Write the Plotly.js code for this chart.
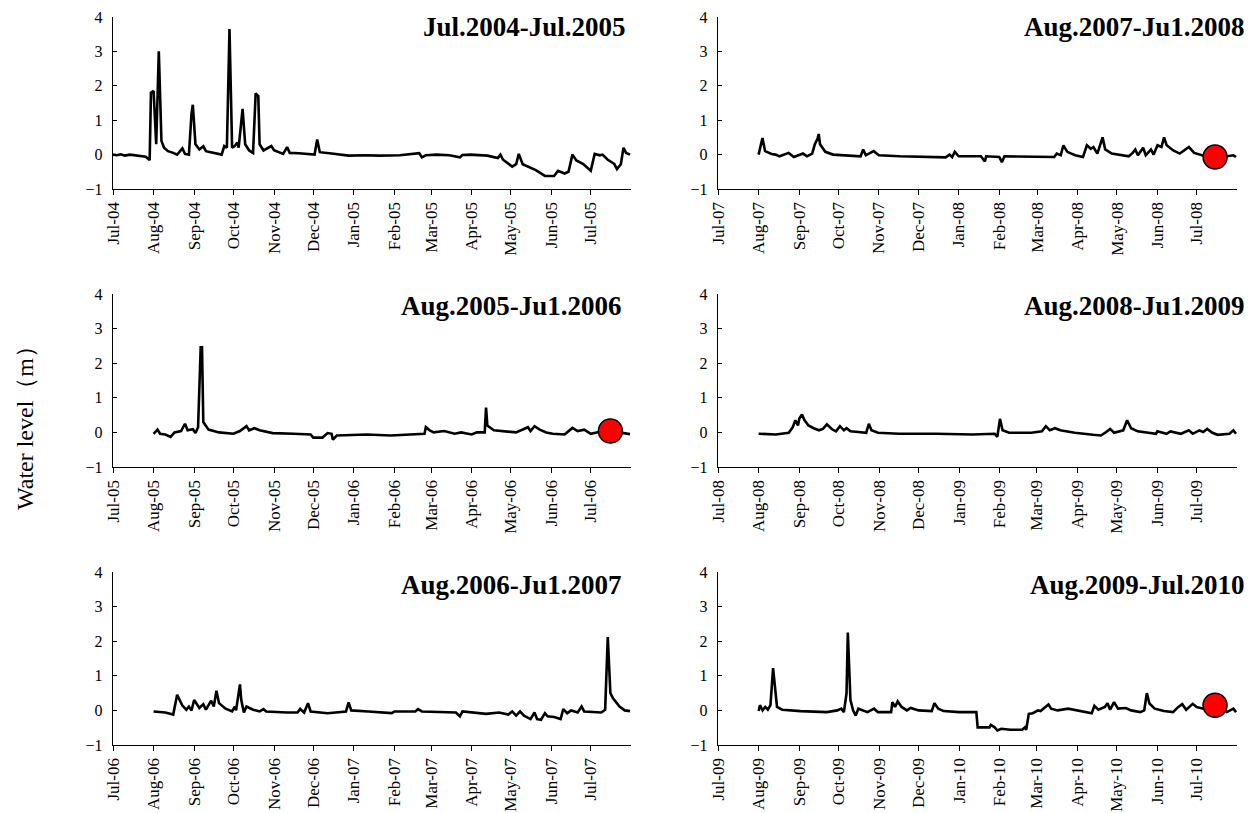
<!DOCTYPE html>
<html>
<head>
<meta charset="utf-8">
<script src="https://cdn.plot.ly/plotly-3.0.1.min.js"></script>
<style>html,body{margin:0;padding:0;background:#fff;}#chart{width:1253px;height:813px;}</style>
</head>
<body>
<div id="chart"></div>
<script>
// ---- Panel titles ----
const panelTitles = ["Jul.2004-Jul.2005", "Aug.2007-Ju1.2008", "Aug.2005-Ju1.2006", "Aug.2008-Ju1.2009", "Aug.2006-Ju1.2007", "Aug.2009-Jul.2010"];
const yAxisTitle = "Water level（m）";

// ---- Panel 1: Jul 2004 - Jul 2005 ----
const p1Dates = ["2004-07-01","2004-07-04","2004-07-07","2004-07-10","2004-07-14","2004-07-18","2004-07-22","2004-07-26","2004-07-29","2004-07-30","2004-08-01","2004-08-03","2004-08-05","2004-08-07","2004-08-09","2004-08-12","2004-08-16","2004-08-19","2004-08-23","2004-08-25","2004-08-28","2004-08-30","2004-08-31","2004-09-02","2004-09-05","2004-09-08","2004-09-10","2004-09-15","2004-09-22","2004-09-24","2004-09-26","2004-09-28","2004-09-30","2004-10-02","2004-10-04","2004-10-05","2004-10-08","2004-10-10","2004-10-13","2004-10-16","2004-10-18","2004-10-20","2004-10-21","2004-10-24","2004-10-30","2004-11-01","2004-11-05","2004-11-08","2004-11-11","2004-11-13","2004-11-20","2004-12-02","2004-12-04","2004-12-06","2004-12-15","2004-12-28","2005-01-10","2005-01-20","2005-02-05","2005-02-20","2005-02-22","2005-02-25","2005-03-05","2005-03-15","2005-03-23","2005-03-25","2005-03-31","2005-04-13","2005-04-21","2005-04-23","2005-04-25","2005-05-02","2005-05-05","2005-05-07","2005-05-10","2005-05-20","2005-05-27","2005-06-03","2005-06-06","2005-06-11","2005-06-14","2005-06-17","2005-06-20","2005-06-25","2005-07-01","2005-07-04","2005-07-08","2005-07-10","2005-07-14","2005-07-19","2005-07-21","2005-07-24","2005-07-26","2005-07-28","2005-07-31"];
const p1Values = [0.0,-0.02,0.01,-0.03,0.0,-0.02,-0.05,-0.06,-0.16,1.8,1.85,0.3,3.0,0.4,0.2,0.1,0.05,0.0,0.18,0.02,0.0,1.2,1.45,0.3,0.15,0.24,0.1,0.05,0.0,0.25,0.2,3.65,0.2,0.25,0.35,0.2,1.33,0.3,0.12,0.05,1.78,1.7,0.3,0.12,0.25,0.13,0.06,0.02,0.22,0.05,0.04,0.0,0.44,0.07,0.03,-0.03,-0.02,-0.03,-0.02,0.04,-0.08,-0.02,0.0,-0.02,-0.08,-0.01,0.0,-0.03,-0.1,0.0,-0.15,-0.35,-0.28,0.02,-0.28,-0.45,-0.62,-0.62,-0.47,-0.55,-0.5,0.0,-0.17,-0.27,-0.47,0.02,-0.02,0.0,-0.15,-0.27,-0.42,-0.28,0.2,0.05,0.0];

// ---- Panel 2: Aug 2007 - Jul 2008 ----
const p2Dates = ["2007-08-01","2007-08-04","2007-08-06","2007-08-11","2007-08-14","2007-08-17","2007-08-24","2007-08-28","2007-09-04","2007-09-07","2007-09-11","2007-09-13","2007-09-15","2007-09-16","2007-09-17","2007-09-21","2007-09-27","2007-10-08","2007-10-18","2007-10-20","2007-10-22","2007-10-28","2007-11-01","2007-11-17","2007-12-09","2007-12-22","2007-12-25","2007-12-27","2007-12-29","2008-01-01","2008-01-18","2008-01-21","2008-01-22","2008-02-01","2008-02-03","2008-02-05","2008-03-14","2008-03-16","2008-03-19","2008-03-21","2008-03-24","2008-03-30","2008-04-05","2008-04-08","2008-04-11","2008-04-13","2008-04-16","2008-04-20","2008-04-22","2008-04-27","2008-05-10","2008-05-13","2008-05-15","2008-05-17","2008-05-21","2008-05-23","2008-05-27","2008-05-29","2008-06-01","2008-06-04","2008-06-06","2008-06-08","2008-06-13","2008-06-18","2008-06-25","2008-06-29","2008-07-05","2008-07-15","2008-07-24","2008-07-29","2008-07-31"];
const p2Values = [0.0,0.48,0.1,0.02,0.0,-0.05,0.05,-0.07,0.03,-0.05,0.03,0.3,0.45,0.6,0.3,0.08,0.0,-0.02,-0.05,0.15,-0.02,0.1,-0.02,-0.05,-0.08,-0.08,0.0,-0.07,0.08,-0.05,-0.05,-0.2,-0.05,-0.07,-0.22,-0.05,-0.07,0.03,-0.02,0.27,0.08,-0.02,-0.07,0.27,0.17,0.22,0.03,0.5,0.15,0.03,-0.05,0.05,0.15,-0.02,0.2,-0.02,0.15,0.0,0.27,0.22,0.5,0.27,0.12,0.03,0.22,0.05,-0.02,-0.07,-0.05,-0.02,-0.07];
const p2MarkerDate = ["2008-07-15"];
const p2MarkerValue = [-0.07];

// ---- Panel 3: Aug 2005 - Jul 2006 ----
const p3Dates = ["2005-08-01","2005-08-04","2005-08-06","2005-08-10","2005-08-14","2005-08-17","2005-08-22","2005-08-25","2005-08-27","2005-08-31","2005-09-02","2005-09-04","2005-09-06","2005-09-07","2005-09-08","2005-09-12","2005-09-20","2005-10-01","2005-10-06","2005-10-11","2005-10-13","2005-10-17","2005-10-21","2005-10-31","2005-11-16","2005-11-29","2005-12-01","2005-12-08","2005-12-12","2005-12-15","2005-12-16","2005-12-19","2006-01-11","2006-01-29","2006-02-24","2006-02-25","2006-02-28","2006-03-03","2006-03-11","2006-03-19","2006-03-24","2006-04-01","2006-04-05","2006-04-11","2006-04-12","2006-04-13","2006-04-18","2006-05-05","2006-05-14","2006-05-16","2006-05-19","2006-05-23","2006-05-28","2006-06-02","2006-06-11","2006-06-17","2006-06-21","2006-06-26","2006-07-01","2006-07-08","2006-07-16","2006-07-24","2006-07-31"];
const p3Values = [-0.04,0.08,-0.04,-0.06,-0.13,0.0,0.04,0.25,0.06,0.09,-0.02,0.15,2.46,2.46,0.3,0.08,0.0,-0.04,0.04,0.18,0.06,0.12,0.06,-0.02,-0.04,-0.06,-0.15,-0.15,-0.02,-0.04,-0.21,-0.09,-0.06,-0.09,-0.04,0.15,0.06,0.0,0.04,-0.04,0.0,-0.06,0.0,0.0,0.72,0.2,0.06,0.0,0.15,0.04,0.18,0.08,0.0,-0.04,-0.06,0.13,0.04,0.08,-0.04,0.02,0.04,0.0,-0.05];
const p3MarkerDate = ["2006-07-16"];
const p3MarkerValue = [0.04];

// ---- Panel 4: Aug 2008 - Jul 2009 ----
const p4Dates = ["2008-08-01","2008-08-07","2008-08-14","2008-08-24","2008-08-27","2008-08-29","2008-08-31","2008-09-01","2008-09-03","2008-09-05","2008-09-08","2008-09-12","2008-09-16","2008-09-19","2008-09-22","2008-09-26","2008-09-29","2008-10-02","2008-10-05","2008-10-07","2008-10-10","2008-10-16","2008-10-22","2008-10-24","2008-10-26","2008-10-31","2008-11-16","2008-12-14","2009-01-11","2009-01-28","2009-01-30","2009-02-01","2009-02-03","2009-02-08","2009-02-25","2009-03-05","2009-03-08","2009-03-11","2009-03-15","2009-03-19","2009-03-30","2009-04-13","2009-04-19","2009-04-23","2009-04-26","2009-04-29","2009-05-06","2009-05-09","2009-05-12","2009-05-17","2009-05-31","2009-06-01","2009-06-08","2009-06-11","2009-06-19","2009-06-25","2009-06-28","2009-07-03","2009-07-06","2009-07-09","2009-07-13","2009-07-17","2009-07-26","2009-07-29","2009-07-31"];
const p4Values = [-0.04,-0.04,-0.06,-0.01,0.15,0.35,0.2,0.4,0.52,0.35,0.2,0.12,0.06,0.1,0.23,0.09,0.03,0.18,0.06,0.12,0.03,0.01,-0.01,0.25,0.06,-0.01,-0.04,-0.04,-0.06,-0.04,-0.13,0.39,0.06,-0.01,-0.01,0.03,0.18,0.06,0.12,0.06,-0.01,-0.07,-0.09,0.01,0.1,-0.01,0.06,0.35,0.12,0.03,-0.04,0.03,-0.04,0.03,-0.04,0.06,-0.04,0.06,0.01,0.1,-0.01,-0.07,-0.04,0.06,-0.04];

// ---- Panel 5: Aug 2006 - Jul 2007 ----
const p5Dates = ["2006-08-01","2006-08-10","2006-08-16","2006-08-19","2006-08-23","2006-08-26","2006-08-28","2006-08-30","2006-09-01","2006-09-05","2006-09-08","2006-09-10","2006-09-14","2006-09-16","2006-09-18","2006-09-20","2006-09-25","2006-09-30","2006-10-02","2006-10-03","2006-10-06","2006-10-07","2006-10-09","2006-10-11","2006-10-16","2006-10-21","2006-10-24","2006-10-26","2006-11-11","2006-11-19","2006-11-21","2006-11-24","2006-11-27","2006-11-29","2006-12-12","2006-12-26","2006-12-28","2006-12-30","2007-01-12","2007-01-30","2007-02-01","2007-02-17","2007-02-19","2007-02-22","2007-03-20","2007-03-23","2007-03-25","2007-04-12","2007-04-22","2007-04-29","2007-05-02","2007-05-05","2007-05-08","2007-05-11","2007-05-16","2007-05-19","2007-05-21","2007-05-24","2007-05-27","2007-05-29","2007-06-03","2007-06-08","2007-06-10","2007-06-13","2007-06-16","2007-06-21","2007-06-24","2007-06-26","2007-07-09","2007-07-12","2007-07-14","2007-07-16","2007-07-18","2007-07-21","2007-07-23","2007-07-27","2007-07-31"];
const p5Values = [-0.03,-0.06,-0.12,0.45,0.14,0.02,0.11,0.0,0.3,0.07,0.18,0.02,0.28,0.11,0.57,0.21,0.05,-0.03,0.11,0.0,0.75,0.3,-0.06,0.11,0.02,-0.03,0.04,-0.03,-0.06,-0.06,0.04,-0.06,0.21,-0.03,-0.08,-0.03,0.23,0.0,-0.03,-0.08,-0.03,-0.03,0.04,-0.03,-0.06,-0.17,-0.03,-0.1,-0.06,-0.12,-0.03,-0.15,-0.03,-0.15,-0.25,-0.06,-0.25,-0.27,-0.08,-0.17,-0.19,-0.25,0.04,-0.08,0.0,-0.06,0.11,-0.03,-0.06,0.02,2.12,0.5,0.35,0.21,0.11,0.0,-0.02];

// ---- Panel 6: Aug 2009 - Jul 2010 ----
const p6Dates = ["2009-08-01","2009-08-02","2009-08-04","2009-08-06","2009-08-08","2009-08-10","2009-08-12","2009-08-14","2009-08-15","2009-08-19","2009-09-02","2009-09-22","2009-09-30","2009-10-03","2009-10-05","2009-10-07","2009-10-08","2009-10-10","2009-10-12","2009-10-14","2009-10-16","2009-10-23","2009-10-28","2009-10-31","2009-11-10","2009-11-11","2009-11-13","2009-11-15","2009-11-18","2009-11-22","2009-11-25","2009-12-01","2009-12-11","2009-12-13","2009-12-16","2009-12-20","2010-01-01","2010-01-14","2010-01-15","2010-01-24","2010-01-25","2010-01-28","2010-01-30","2010-02-02","2010-02-09","2010-02-18","2010-02-20","2010-02-21","2010-02-23","2010-02-26","2010-03-02","2010-03-04","2010-03-10","2010-03-12","2010-03-17","2010-03-25","2010-04-03","2010-04-12","2010-04-14","2010-04-17","2010-04-22","2010-04-24","2010-04-26","2010-04-29","2010-05-02","2010-05-08","2010-05-12","2010-05-19","2010-05-22","2010-05-24","2010-05-26","2010-05-30","2010-06-06","2010-06-13","2010-06-17","2010-06-20","2010-06-23","2010-06-25","2010-06-28","2010-07-01","2010-07-06","2010-07-15","2010-07-24","2010-07-29","2010-07-31"];
const p6Values = [-0.02,0.15,0.0,0.1,0.02,0.15,1.22,0.3,0.1,0.02,-0.02,-0.05,0.0,0.05,-0.05,0.49,2.25,0.3,0.0,-0.15,0.05,-0.05,0.05,-0.05,-0.05,0.24,0.1,0.26,0.1,0.0,0.07,0.0,-0.02,0.21,0.05,-0.02,-0.05,-0.05,-0.49,-0.49,-0.42,-0.49,-0.58,-0.53,-0.56,-0.56,-0.49,-0.56,-0.1,-0.08,0.0,-0.02,0.17,0.05,0.0,0.05,-0.02,-0.08,0.13,0.02,0.1,0.21,0.02,0.24,0.05,0.07,0.0,-0.05,0.0,0.5,0.2,0.05,-0.02,-0.05,0.1,0.18,0.02,0.1,0.19,0.1,0.05,0.15,-0.05,0.05,-0.05];
const p6MarkerDate = ["2010-07-15"];
const p6MarkerValue = [0.15];

// ---- X ranges (start of July to end of next July) ----
const xRanges = [["2004-07-01","2005-07-31 18:00"],["2007-07-01","2008-07-31 18:00"],["2005-07-01","2006-07-31 18:00"],["2008-07-01","2009-07-31 18:00"],["2006-07-01","2007-07-31 18:00"],["2009-07-01","2010-07-31 18:00"]];

const lineSeries = [[p1Dates,p1Values],[p2Dates,p2Values],[p3Dates,p3Values],[p4Dates,p4Values],[p5Dates,p5Values],[p6Dates,p6Values]];
const markerSeries = [null,[p2MarkerDate,p2MarkerValue],[p3MarkerDate,p3MarkerValue],null,null,[p6MarkerDate,p6MarkerValue]];

const W = 1253, H = 813;
const colX = [[113,631],[718,1237]];
const rowY = [[17,189],[294,467],[572,745]];
const titleRight = [628,1247,624,1247,624,1247];
const titleY = [27,306,585];
const FONT = "Liberation Serif";

const traces = [];
const layout = {
  width: W, height: H, margin:{l:0,r:0,t:0,b:0},
  paper_bgcolor:'#fff', plot_bgcolor:'#fff', showlegend:false,
  font:{family:FONT, color:'#000', size:16},
  annotations: []
};

for (let i=0;i<6;i++){
  const col = i%2, row = Math.floor(i/2);
  const ax = i===0 ? '' : String(i+1);
  const xa = 'x'+ax, ya = 'y'+ax;
  traces.push({x:lineSeries[i][0], y:lineSeries[i][1], xaxis:xa, yaxis:ya, type:'scatter', mode:'lines',
    line:{color:'#000', width:2.6}, hoverinfo:'skip'});
  if (markerSeries[i]) {
    traces.push({x:markerSeries[i][0], y:markerSeries[i][1], xaxis:xa, yaxis:ya, type:'scatter', mode:'markers',
      marker:{color:'#ff0000', size:24, line:{color:'#000', width:1.5}}, hoverinfo:'skip', cliponaxis:false});
  }
  layout['xaxis'+ax] = {
    domain:[colX[col][0]/W, colX[col][1]/W], anchor:ya, type:'date', range:xRanges[i],
    tick0:xRanges[i][0], dtick:'M1', tickformat:'%b-%y', tickangle:-90,
    ticks:'outside', ticklen:5, tickcolor:'#000', tickwidth:1,
    showline:true, linecolor:'#000', linewidth:1.2, showgrid:false, zeroline:false,
    tickfont:{family:FONT, size:17, color:'#000'}
  };
  layout['yaxis'+ax] = {
    domain:[1-rowY[row][1]/H, 1-rowY[row][0]/H], anchor:xa, range:[-1,4], dtick:1, tick0:-1,
    ticks:'inside', ticklen:4, tickcolor:'#000', tickwidth:1, ticklabelstandoff:6,
    showline:true, linecolor:'#000', linewidth:1.2, showgrid:false, zeroline:false,
    tickfont:{family:FONT, size:16, color:'#000'}
  };
  layout.annotations.push({text:'<b>'+panelTitles[i]+'</b>', xref:'paper', yref:'paper',
    x:titleRight[i]/W, y:1-titleY[row]/H, xanchor:'right', yanchor:'middle', showarrow:false,
    font:{family:FONT, size:27, color:'#000'}});
}
layout.annotations.push({text:yAxisTitle, xref:'paper', yref:'paper', x:25/W, y:1-422/H,
  xanchor:'center', yanchor:'middle', textangle:-90, showarrow:false, font:{family:FONT, size:24, color:'#000'}});

Plotly.newPlot('chart', traces, layout, {staticPlot:true, displayModeBar:false});
</script>
</body>
</html>
